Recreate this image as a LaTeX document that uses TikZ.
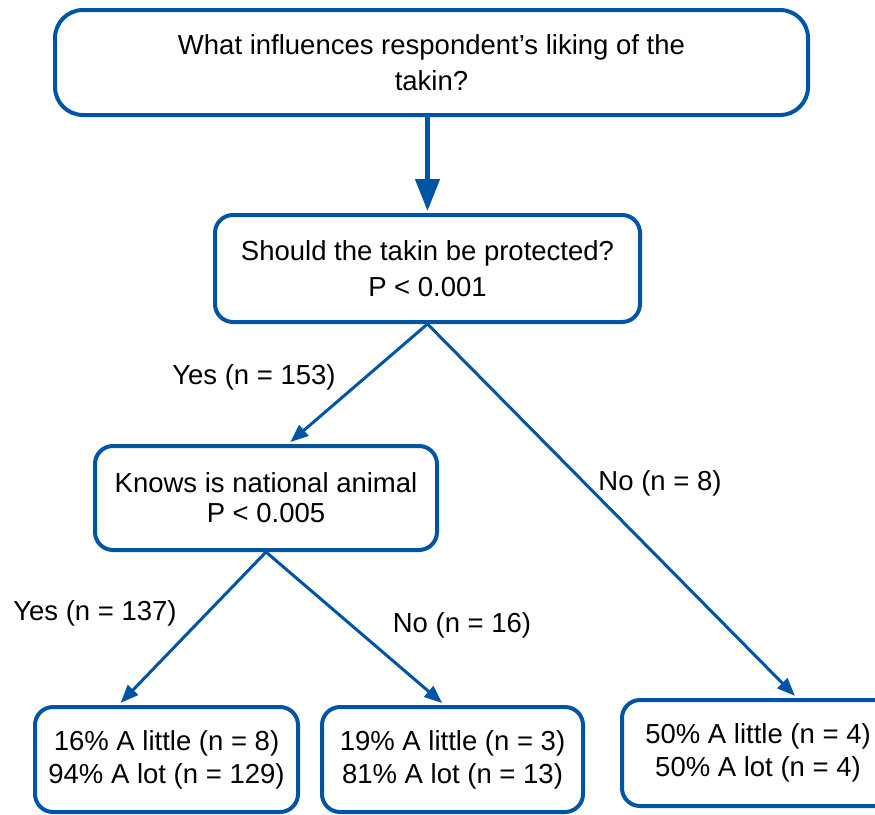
\documentclass[tikz,border=0pt]{standalone}
\usepackage{fontspec}
\setmainfont{Liberation Sans}
\usetikzlibrary{arrows.meta}
\definecolor{takinblue}{RGB}{0,84,166}
\tikzset{
  box/.style={draw=takinblue, line width=4pt, rounded corners=18pt, align=center, inner sep=0pt, font=\fontsize{27.5}{33}\selectfont},
  link/.style={draw=takinblue, line width=3pt, shorten >=3pt, -{Triangle[width=14pt,length=18pt]}},
  lbl/.style={inner sep=0pt, font=\fontsize{27.5}{33}\selectfont}
}

\begin{document}
\begin{tikzpicture}[x=1pt,y=-1pt]
            \useasboundingbox (0,0) rectangle (875,814);
            \node[box, rounded corners=28pt, minimum width=753pt, minimum height=105pt, font=\fontsize{27.5}{36}\selectfont] (root) at (431.5,62.5) {What influences respondent’s liking of the\\takin?};
            \node[box, minimum width=425pt, minimum height=107pt, font=\fontsize{27.5}{36}\selectfont] (protect) at (427.5,268.5) {Should the takin be protected?\\P < 0.001};
            \node[box, minimum width=342pt, minimum height=104pt, font=\fontsize{27.5}{30}\selectfont] (national) at (266,498) {Knows is national animal\\P < 0.005};
            \node[box, minimum width=263pt, minimum height=105pt] (leafA) at (166.5,759.5) {16\% A little (n = 8)\\94\% A lot (n = 129)};
            \node[box, minimum width=261pt, minimum height=105pt] (leafB) at (452.5,759.5) {19\% A little (n = 3)\\81\% A lot (n = 13)};
            \node[box, minimum width=272pt, minimum height=106pt] (leafC) at (758,753) {50\% A little (n = 4)\\50\% A lot (n = 4)};
            \draw[link, line width=4.5pt, shorten >=2pt, -{Triangle[width=24pt,length=32pt]}] (protect.north |- root.south) -- (protect.north);
            \draw[link] (protect.south) -- ([xshift=22pt]national.north);
            \draw[link] (protect.south) -- ([xshift=39pt]leafC.north);
            \draw[link] (national.south) -- ([xshift=-48pt]leafA.north);
            \draw[link] (national.south) -- ([xshift=-8pt]leafB.north);
            \node[lbl] (yesProtect) at (254,377) {Yes (n = 153)};
            \node[lbl] (noProtect) at (660,483) {No (n = 8)};
            \node[lbl] (yesNational) at (95,613) {Yes (n = 137)};
            \node[lbl] (noNational) at (462,625) {No (n = 16)};
        \end{tikzpicture}
\end{document}
